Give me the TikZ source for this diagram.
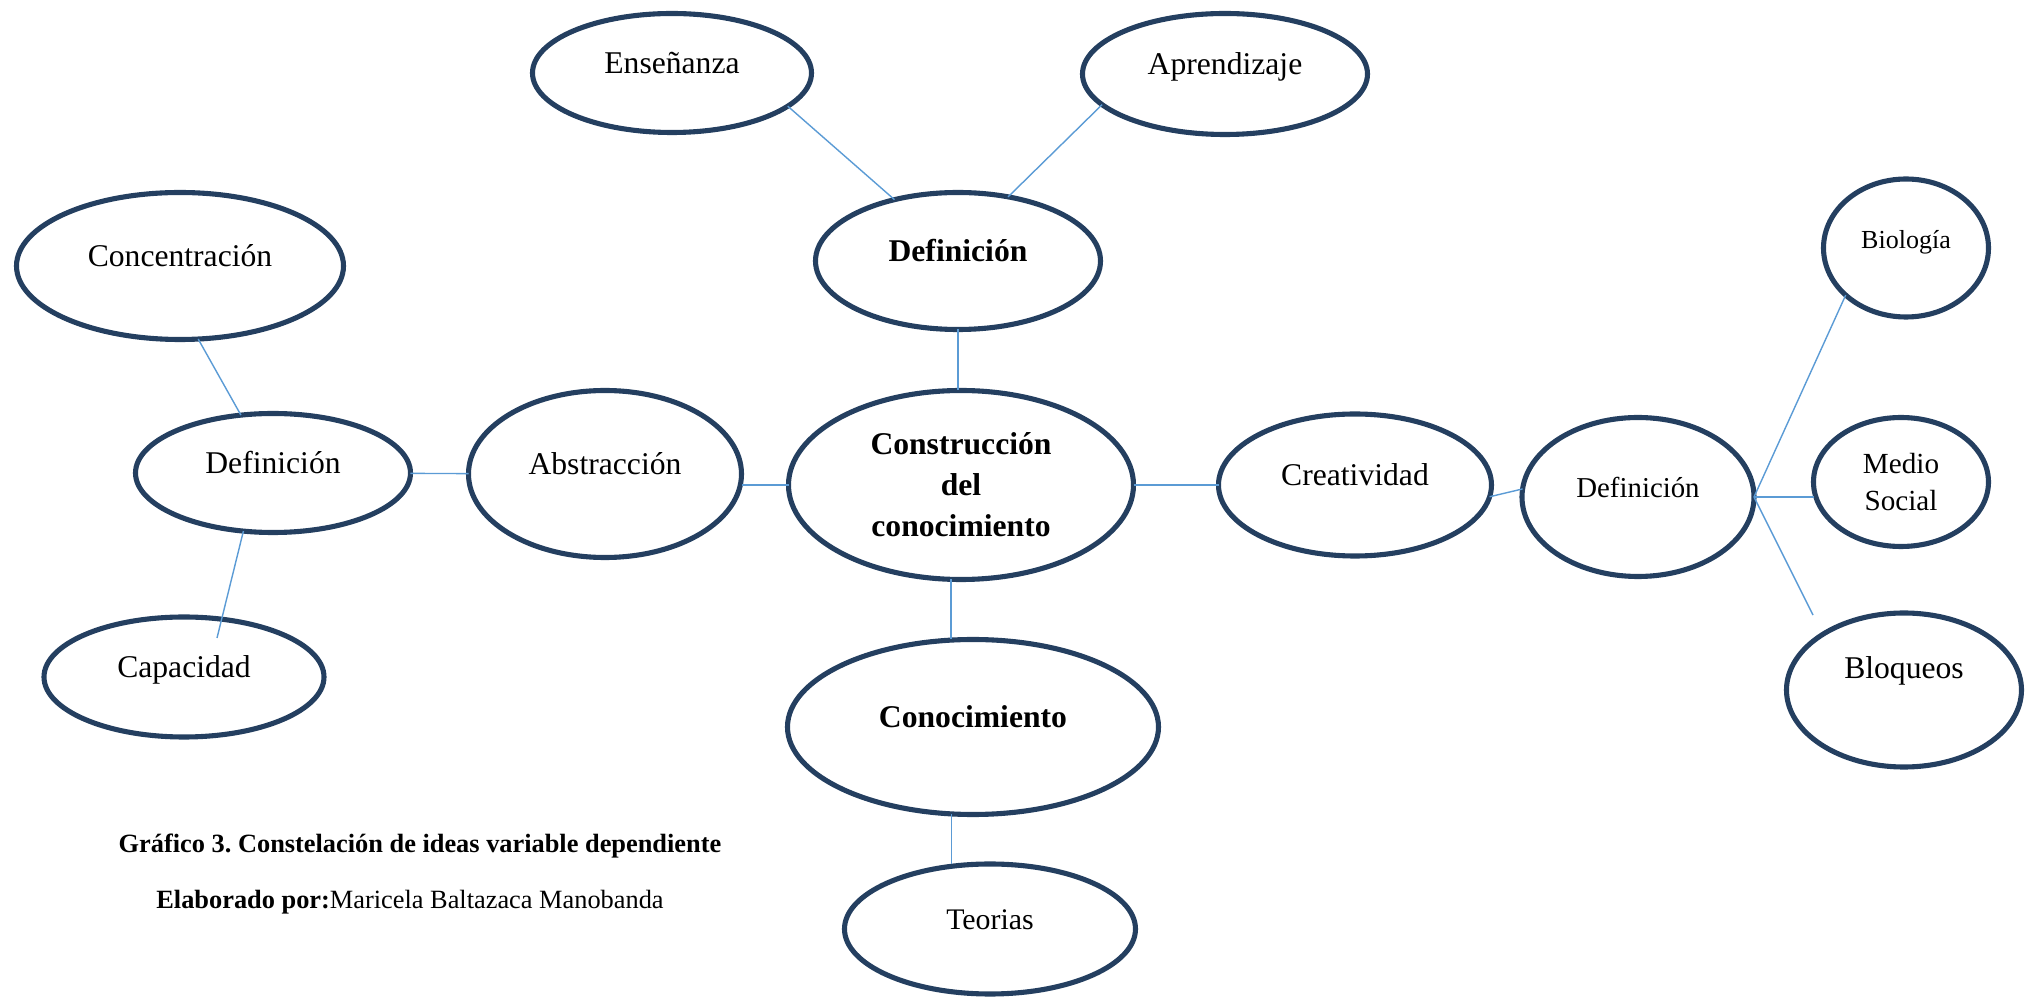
\documentclass[tikz,border=0pt]{standalone}
\usepackage{fontspec}
\setmainfont{Liberation Serif}
\usetikzlibrary{shapes.geometric, positioning}
\definecolor{ideanavy}{RGB}{36, 63, 96}
\definecolor{linkblue}{RGB}{91, 155, 213}
\tikzset{
    ideabase/.style={
        ellipse, draw=ideanavy, line width=1.45pt, inner sep=2pt, outer sep=0pt,
        font=\fontsize{9}{11.7}\selectfont, align=center
    },
    idea/.style={ideabase, text height=6pt, text depth=5.7pt},
    boldidea/.style={idea, font=\fontsize{9}{11.7}\selectfont\bfseries},
    link/.style={draw=linkblue, line width=0.4pt},
    caption/.style={font=\fontsize{7.5}{8.5}\selectfont, inner sep=0pt},
}

\begin{document}
\frenchspacing
\begin{tikzpicture}
    \useasboundingbox (0,0) rectangle (20.28,-10.05);

    % centre
    \node[ideabase, font=\fontsize{9}{11.7}\selectfont\bfseries, minimum width=3.45cm, minimum height=1.89cm] (con) at (9.61,-4.85) {Construcción\\del\\conocimiento};

    % top branch
    \node[boldidea, minimum width=2.85cm, minimum height=1.37cm] (defc) at (9.58,-2.61) {Definición};
    \node[idea, minimum width=2.79cm, minimum height=1.19cm] (ens) at (6.72,-0.73) {Enseñanza};
    \node[idea, minimum width=2.85cm, minimum height=1.21cm] (apr) at (12.25,-0.74) {Aprendizaje};

    % left branch
    \node[idea, minimum width=2.73cm, minimum height=1.67cm] (abs) at (6.05,-4.74) {Abstracción};
    \node[idea, minimum width=2.75cm, minimum height=1.19cm] (defl) at (2.73,-4.73) {Definición};
    \node[idea, minimum width=3.27cm, minimum height=1.47cm] (cnc) at (1.80,-2.66) {Concentración};
    \node[idea, minimum width=2.80cm, minimum height=1.20cm] (cap) at (1.84,-6.77) {Capacidad};
    \coordinate (capin) at (2.17,-6.38);

    % right branch
    \node[idea, minimum width=2.73cm, minimum height=1.42cm] (cre) at (13.55,-4.85) {Creatividad};
    \node[idea, font=\fontsize{8.2}{10}\selectfont, minimum width=2.32cm, minimum height=1.59cm] (defr) at (16.38,-4.97) {Definición};
    \node[idea, font=\fontsize{7.4}{9}\selectfont, minimum width=1.65cm, minimum height=1.38cm] (bio) at (19.06,-2.48) {Biología};
    \node[ideabase, font=\fontsize{8.3}{10.5}\selectfont, minimum width=1.75cm, minimum height=1.29cm] (med) at (19.01,-4.82) {Medio\\Social};
    \node[idea, text depth=12.6pt, minimum width=2.35cm, minimum height=1.54cm] (blo) at (19.04,-6.90) {Bloqueos};
    \coordinate (bloin) at (18.13,-6.15);

    % bottom branch
    \node[boldidea, minimum width=3.71cm, minimum height=1.75cm] (kno) at (9.73,-7.27) {Conocimiento};
    \node[idea, font=\fontsize{8.5}{10}\selectfont, minimum width=2.91cm, minimum height=1.30cm] (teo) at (9.90,-9.29) {Teorias};

    % connectors
    \draw[link] (ens.-16) -- (defc.136);
    \draw[link] (apr.-166) -- (defc.52);
    \draw[link] (defc.south) -- (defc.south |- con.north);
    \draw[link] (con.west) -- (con.west -| abs.east);
    \draw[link] (defl) -- (abs);
    \draw[link] (cnc.-76) -- (defl.119);
    \draw[link] (defl.-117) -- (capin);
    \draw[link] (con) -- (cre);
    \draw[link] (cre.-5) -- (defr.176);
    \draw[link] (defr.east) -- (bio.-142);
    \draw[link] (defr.east) -- (defr.east -| med.west);
    \draw[link] (defr.east) -- (bloin);
    \draw[link] (con.-96) -- (con.-96 |- kno.north);
    \draw[link] (kno.-104) -- (kno.-104 |- teo.north);

    % caption
    \node[caption] (title) at (4.20,-8.46) {\bfseries Gráfico 3. Constelación de ideas variable dependiente};
    \node[caption] (author) at (4.10,-9.02) {\textbf{Elaborado por:}Maricela Baltazaca Manobanda};
\end{tikzpicture}
\end{document}
